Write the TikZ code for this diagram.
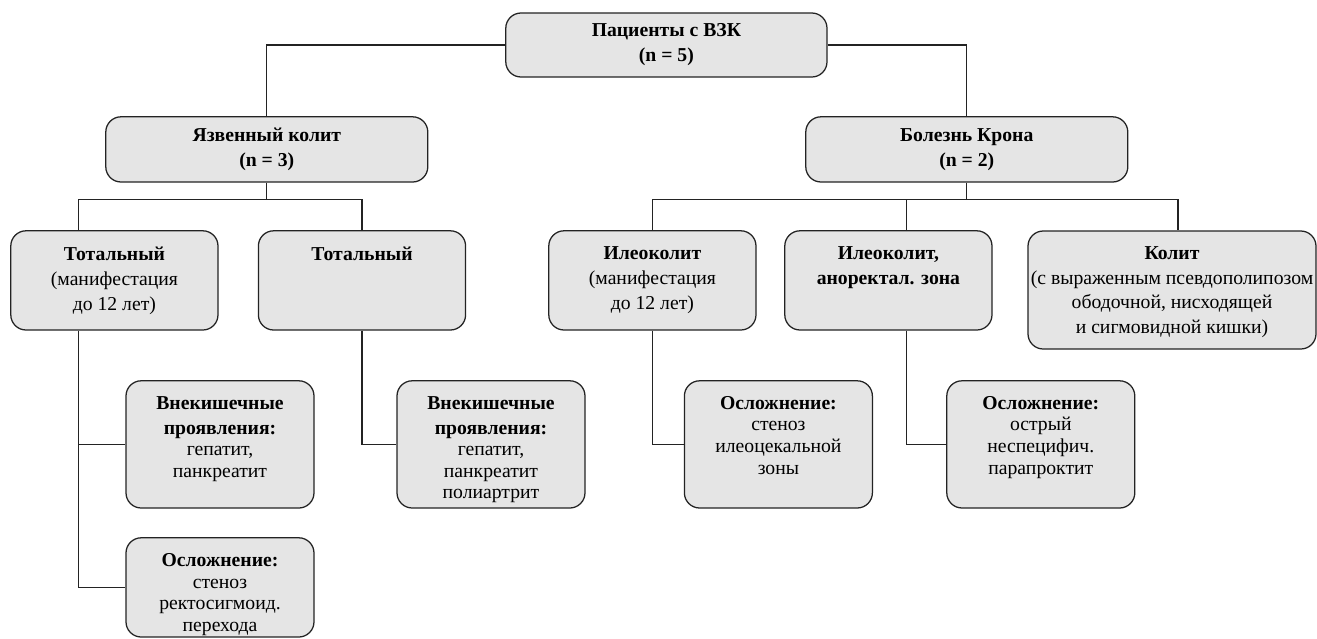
\documentclass[tikz,border=0pt]{standalone}
\usepackage{fontspec}
\setmainfont{Liberation Serif}
\usetikzlibrary{positioning}
\definecolor{boxfill}{RGB}{229,229,229}
\definecolor{edgegray}{RGB}{35,35,35}

\begin{document}
\begin{tikzpicture}[node distance=2cm,on grid,
    box/.style={draw=edgegray,fill=boxfill,line width=0.9pt,rounded corners=0.38cm,inner sep=0pt},
    lvtop/.style={box,minimum width=8.03cm,minimum height=1.6cm,align=center,font=\fontsize{14}{17.8}\selectfont\bfseries},
    lvtwo/.style={box,minimum width=8.05cm,minimum height=1.63cm,align=center,font=\fontsize{14}{17.8}\selectfont\bfseries},
    lvthree/.style={box,minimum width=5.18cm,minimum height=2.48cm},
    lvkol/.style={box,minimum width=7.2cm,minimum height=2.95cm},
    lvfour/.style={box,minimum width=4.7cm,minimum height=3.18cm},
    lvfive/.style={box,minimum width=4.7cm,minimum height=2.48cm},
    headtext/.style={below=0.4cm,align=center,inner sep=0pt,font=\fontsize{14}{17.8}\selectfont},
    subtext/.style={below=0.4cm,align=center,inner sep=0pt,font=\fontsize{14}{15.3}\selectfont},
    link/.style={draw=edgegray,line width=0.8pt}]
  \useasboundingbox (0,0) rectangle (32.925,-15.95);

  \node[lvtop]  (pat)  at (16.66,-1.125)                {Пациенты с ВЗК\\(n = 5)};
  \node[lvtwo]  (uc)   [below left =2.61cm and 9.99cm of pat]  {Язвенный колит\\(n = 3)};
  \node[lvtwo]  (cd)   [below right=2.61cm and 7.51cm of pat]  {Болезнь Крона\\(n = 2)};

  \node[lvthree,label={[headtext]north:{\textbf{Тотальный}\\(манифестация\\до 12 лет)}}]
        (tot1) [below left=3.275cm and 3.81cm of uc] {};
  \node[lvthree,label={[headtext]north:{\textbf{Тотальный}}}]
        (tot2) [right=6.19cm of tot1] {};
  \node[lvthree,label={[headtext]north:{\textbf{Илеоколит}\\(манифестация\\до 12 лет)}}]
        (ile1) [right=7.26cm of tot2] {};
  \node[lvthree,label={[headtext]north:{\textbf{Илеоколит,}\\\textbf{аноректал. зона}}}]
        (ile2) [right=5.9cm of ile1] {};
  \node[lvkol,label={[subtext]north:{\textbf{Колит}\\[2.5pt](с выраженным псевдополипозом\\[2pt]ободочной, нисходящей\\[2pt]и сигмовидной кишки)}}]
        (kol)  [below right=0.24cm and 7.09cm of ile2] {};

  \node[lvfour,label={[subtext]north:{\textbf{Внекишечные}\\[2.5pt]\textbf{проявления:}\\гепатит,\\панкреатит}}]
        (ext1) [below right=4.1cm and 2.64cm of tot1] {};
  \node[lvfive,label={[subtext]north:{\textbf{Осложнение:}\\стеноз\\ректосигмоид.\\перехода}}]
        (comp0) [below=3.575cm of ext1] {};
  \node[lvfour,label={[subtext]north:{\textbf{Внекишечные}\\[2.5pt]\textbf{проявления:}\\гепатит,\\панкреатит\\полиартрит}}]
        (ext2) [below right=4.1cm and 3.225cm of tot2] {};
  \node[lvfour,label={[subtext]north:{\textbf{Осложнение:}\\стеноз\\илеоцекальной\\зоны}}]
        (comp1) [below right=4.1cm and 3.15cm of ile1] {};
  \node[lvfour,label={[subtext]north:{\textbf{Осложнение:}\\острый\\неспецифич.\\парапроктит}}]
        (comp2) [below right=4.1cm and 3.81cm of ile2] {};

  % offset drops and buses
  \coordinate (tot1top) at ([xshift=-0.89cm]tot1.north);
  \coordinate (tot1bot) at ([xshift=-0.89cm]tot1.south);
  \coordinate (ile2top) at ([xshift=0.46cm]ile2.north);
  \coordinate (ile2bot) at ([xshift=0.46cm]ile2.south);
  \coordinate (koltop)  at ([xshift=0.15cm]kol.north);
  \coordinate (ucbus)   at ([yshift=-0.425cm]uc.south);
  \coordinate (cdbus)   at ([yshift=-0.425cm]cd.south);

  \path[link] (pat.west) -| (uc.north)
              (pat.east) -| (cd.north)
              (uc.south) -- (ucbus) -| (tot1top)
              (ucbus) -| (tot2.north)
              (cd.south) -- (cdbus) -| (ile1.north)
              (cdbus) -| (ile2top)
              (cdbus) -| (koltop)
              (tot1bot) |- (ext1.west)
              (tot1bot) |- (comp0.west)
              (tot2.south) |- (ext2.west)
              (ile1.south) |- (comp1.west)
              (ile2bot) |- (comp2.west);
\end{tikzpicture}
\end{document}
